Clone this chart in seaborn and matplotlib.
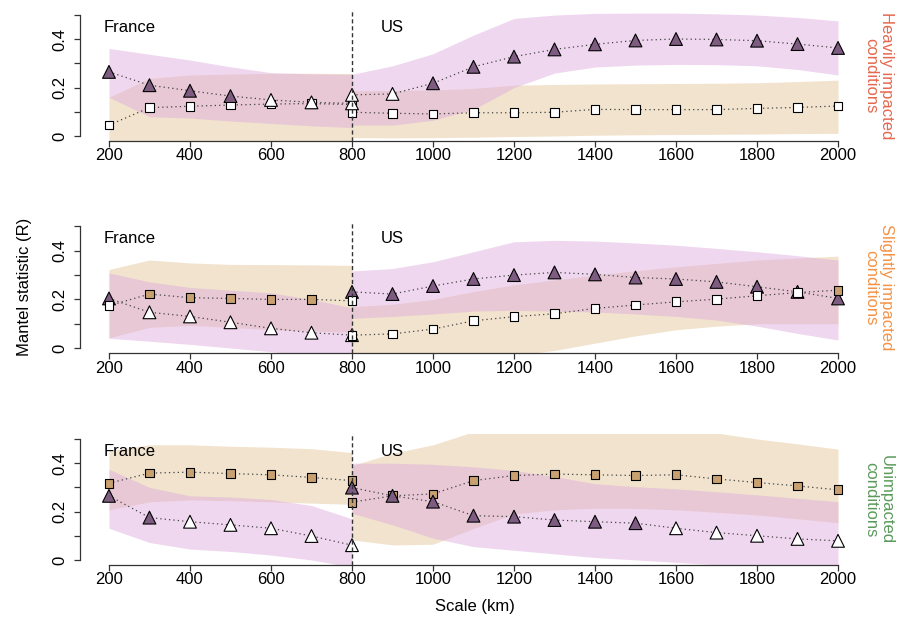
import pandas as pd
import matplotlib.pyplot as plt
import seaborn as sns

# distances (km) for the two transects
km_fr = [200, 300, 400, 500, 600, 700, 800]
km_us = [800, 900, 1000, 1100, 1200, 1300, 1400, 1500, 1600, 1700, 1800, 1900, 2000]

# Heavily impacted conditions
h_tri_fr = [0.265, 0.21, 0.187, 0.165, 0.149, 0.139, 0.135]
h_tri_fr_sig = [1, 1, 1, 1, 0, 0, 0]
h_tri_fr_lo = [0.16, 0.08, 0.074, 0.062, 0.052, 0.042, 0.035]
h_tri_fr_hi = [0.362, 0.338, 0.314, 0.286, 0.262, 0.257, 0.255]
h_tri_us = [0.17, 0.174, 0.218, 0.286, 0.328, 0.358, 0.379, 0.395, 0.401, 0.399, 0.394, 0.38, 0.364]
h_tri_us_sig = [0, 0, 1, 1, 1, 1, 1, 1, 1, 1, 1, 1, 1]
h_tri_us_lo = [0.045, 0.045, 0.065, 0.11, 0.2, 0.26, 0.285, 0.293, 0.296, 0.295, 0.29, 0.275, 0.252]
h_tri_us_hi = [0.255, 0.29, 0.34, 0.417, 0.486, 0.5, 0.507, 0.508, 0.508, 0.505, 0.5, 0.49, 0.476]
h_sq_fr = [0.045, 0.117, 0.123, 0.128, 0.132, 0.134, 0.13]
h_sq_fr_sig = [0, 0, 0, 0, 0, 0, 0]
h_sq_fr_lo = [-0.07, -0.06, -0.05, -0.05, -0.05, -0.05, -0.05]
h_sq_fr_hi = [0.16, 0.238, 0.252, 0.256, 0.259, 0.259, 0.258]
h_sq_us = [0.098, 0.094, 0.091, 0.096, 0.096, 0.098, 0.11, 0.109, 0.109, 0.109, 0.114, 0.118, 0.124]
h_sq_us_sig = [0] * 13
h_sq_us_lo = [-0.007, -0.008, -0.007, -0.005, -0.002, 0.0, 0.003, 0.005, 0.006, 0.007, 0.008, 0.01, 0.011]
h_sq_us_hi = [0.187, 0.188, 0.19, 0.197, 0.21, 0.213, 0.215, 0.216, 0.217, 0.218, 0.22, 0.225, 0.231]

# Slightly impacted conditions
s_tri_fr = [0.204, 0.147, 0.13, 0.106, 0.081, 0.063, 0.053]
s_tri_fr_sig = [1, 0, 0, 0, 0, 0, 0]
s_tri_fr_lo = [0.04, 0.028, 0.015, 0.0, -0.015, -0.03, -0.04]
s_tri_fr_hi = [0.309, 0.272, 0.249, 0.238, 0.227, 0.2, 0.165]
s_tri_us = [0.231, 0.222, 0.255, 0.284, 0.3, 0.311, 0.303, 0.29, 0.284, 0.272, 0.252, 0.231, 0.204]
s_tri_us_sig = [1] * 13
s_tri_us_lo = [0.122, 0.13, 0.14, 0.152, 0.155, 0.152, 0.148, 0.14, 0.13, 0.115, 0.09, 0.06, 0.033]
s_tri_us_hi = [0.317, 0.327, 0.355, 0.396, 0.437, 0.443, 0.44, 0.432, 0.423, 0.41, 0.396, 0.38, 0.362]
s_sq_fr = [0.174, 0.222, 0.207, 0.204, 0.2, 0.2, 0.194]
s_sq_fr_sig = [0, 1, 1, 1, 1, 1, 0]
s_sq_fr_lo = [0.042, 0.085, 0.093, 0.085, 0.075, 0.07, 0.065]
s_sq_fr_hi = [0.323, 0.362, 0.35, 0.344, 0.343, 0.342, 0.34]
s_sq_us = [0.053, 0.058, 0.078, 0.112, 0.129, 0.141, 0.163, 0.177, 0.19, 0.201, 0.215, 0.228, 0.238]
s_sq_us_sig = [0] * 12 + [1]
s_sq_us_lo = [-0.12, -0.1, -0.08, -0.055, -0.03, -0.01, 0.02, 0.05, 0.075, 0.09, 0.1, 0.1, 0.1]
s_sq_us_hi = [0.17, 0.18, 0.2, 0.232, 0.26, 0.28, 0.3, 0.318, 0.334, 0.348, 0.362, 0.37, 0.378]

# Unimpacted conditions
u_tri_fr = [0.265, 0.175, 0.158, 0.145, 0.131, 0.099, 0.061]
u_tri_fr_sig = [1, 1, 0, 0, 0, 0, 0]
u_tri_fr_lo = [0.131, 0.072, 0.045, 0.035, 0.02, 0.0, -0.03]
u_tri_fr_hi = [0.375, 0.3, 0.265, 0.26, 0.25, 0.225, 0.17]
u_tri_us = [0.299, 0.265, 0.241, 0.183, 0.179, 0.165, 0.158, 0.152, 0.131, 0.113, 0.1, 0.087, 0.079]
u_tri_us_sig = [1] * 8 + [0] * 5
u_tri_us_lo = [0.193, 0.145, 0.09, 0.055, 0.04, 0.025, 0.01, 0.0, -0.01, -0.02, -0.03, -0.03, -0.03]
u_tri_us_hi = [0.4, 0.4, 0.395, 0.385, 0.37, 0.345, 0.315, 0.303, 0.294, 0.282, 0.269, 0.255, 0.241]
u_sq_fr = [0.317, 0.359, 0.363, 0.357, 0.352, 0.341, 0.328]
u_sq_fr_sig = [1] * 7
u_sq_fr_lo = [0.207, 0.24, 0.248, 0.245, 0.24, 0.235, 0.23]
u_sq_fr_hi = [0.452, 0.476, 0.476, 0.47, 0.466, 0.46, 0.444]
u_sq_us = [0.239, 0.265, 0.273, 0.328, 0.349, 0.355, 0.352, 0.349, 0.352, 0.335, 0.32, 0.306, 0.29]
u_sq_us_sig = [1] * 13
u_sq_us_lo = [0.083, 0.062, 0.065, 0.13, 0.19, 0.207, 0.214, 0.213, 0.207, 0.197, 0.186, 0.17, 0.154]
u_sq_us_hi = [0.39, 0.441, 0.476, 0.53, 0.55, 0.55, 0.55, 0.55, 0.545, 0.525, 0.5, 0.48, 0.458]

x_ticks = [200, 400, 600, 800, 1000, 1200, 1400, 1600, 1800, 2000]
y_ticks = [0, 0.1, 0.2, 0.3, 0.4, 0.5]
y_ticklabels = ['0', '', '0.2', '', '0.4', '']

TRI_FILL = '#7E5B81'
SQ_FILL = '#C9A170'
TRI_BAND = '#DEA8DE'
SQ_BAND = '#E2C190'

sns.set_theme(style='ticks')
plt.rcParams['font.family'] = ['Liberation Sans', 'DejaVu Sans']
plt.rcParams['text.color'] = 'black'
plt.rcParams['xtick.color'] = 'black'
plt.rcParams['ytick.color'] = 'black'
plt.rcParams['axes.labelcolor'] = 'black'


def draw_band(ax, km, lo, hi, color):
    ax.fill_between(km, lo, hi, color=color, alpha=0.45, linewidth=0, zorder=1)


def draw_series(ax, km, vals, sig, marker, fill, size, z):
    sns.lineplot(x=km, y=vals, ax=ax, color='#444444', linewidth=0.9,
                 linestyle=(0, (1, 2.5)), zorder=2, errorbar=None, sort=False)
    df = pd.DataFrame({'km': km, 'R': vals,
                       'sig': ['sig' if s else 'ns' for s in sig]})
    sns.scatterplot(data=df, x='km', y='R', hue='sig',
                    palette={'sig': fill, 'ns': 'white'}, marker=marker, s=size,
                    edgecolor='black', linewidth=0.8, legend=False, ax=ax, zorder=z)


panels = [
    dict(label='Heavily impacted\nconditions', color='#E5674F', sq_first=True,
         tri=[(km_fr, h_tri_fr, h_tri_fr_sig, h_tri_fr_lo, h_tri_fr_hi),
              (km_us, h_tri_us, h_tri_us_sig, h_tri_us_lo, h_tri_us_hi)],
         sq=[(km_fr, h_sq_fr, h_sq_fr_sig, h_sq_fr_lo, h_sq_fr_hi),
             (km_us, h_sq_us, h_sq_us_sig, h_sq_us_lo, h_sq_us_hi)],
         rect=[0.0878, 0.7725, 0.8662, 0.211]),
    dict(label='Slightly impacted\nconditions', color='#F59245', sq_first=False,
         tri=[(km_fr, s_tri_fr, s_tri_fr_sig, s_tri_fr_lo, s_tri_fr_hi),
              (km_us, s_tri_us, s_tri_us_sig, s_tri_us_lo, s_tri_us_hi)],
         sq=[(km_fr, s_sq_fr, s_sq_fr_sig, s_sq_fr_lo, s_sq_fr_hi),
             (km_us, s_sq_us, s_sq_us_sig, s_sq_us_lo, s_sq_us_hi)],
         rect=[0.0878, 0.4299, 0.8662, 0.2121]),
    dict(label='Unimpacted\nconditions', color='#5B9A5B', sq_first=True,
         tri=[(km_fr, u_tri_fr, u_tri_fr_sig, u_tri_fr_lo, u_tri_fr_hi),
              (km_us, u_tri_us, u_tri_us_sig, u_tri_us_lo, u_tri_us_hi)],
         sq=[(km_fr, u_sq_fr, u_sq_fr_sig, u_sq_fr_lo, u_sq_fr_hi),
             (km_us, u_sq_us, u_sq_us_sig, u_sq_us_lo, u_sq_us_hi)],
         rect=[0.0878, 0.0876, 0.8662, 0.211]),
]

fig = plt.figure(figsize=(9.09, 6.19), dpi=100)

for p in panels:
    ax = fig.add_axes(p['rect'])

    # bandes de confiance: tan dessous, violet dessus
    for km, vals, sig, lo, hi in p['sq']:
        draw_band(ax, km, lo, hi, SQ_BAND)
    for km, vals, sig, lo, hi in p['tri']:
        draw_band(ax, km, lo, hi, TRI_BAND)

    z_sq, z_tri = (3, 4) if p['sq_first'] else (4, 3)
    for km, vals, sig, lo, hi in p['sq']:
        draw_series(ax, km, vals, sig, 's', SQ_FILL, 40, z_sq)
    for km, vals, sig, lo, hi in p['tri']:
        draw_series(ax, km, vals, sig, '^', TRI_FILL, 85, z_tri)

    ax.axvline(800, color='#333333', linewidth=1, linestyle=(0, (3, 2)), zorder=5)
    ax.text(250, 0.45, 'France', ha='center', va='center', fontsize=12, color='black')
    ax.text(900, 0.45, 'US', ha='center', va='center', fontsize=12, color='black')
    ax.text(1.0143, 0.5, p['label'], transform=ax.transAxes, rotation=270,
            ha='center', va='center', fontsize=12, color=p['color'], linespacing=1.1)

    ax.set_xlim(128, 2072)
    ax.set_ylim(-0.02, 0.52)
    ax.set_xticks(x_ticks)
    ax.set_xticklabels([str(t) for t in x_ticks], fontsize=12, color='black')
    ax.set_yticks(y_ticks)
    ax.set_yticklabels(y_ticklabels, fontsize=12, rotation=90, va='center', color='black')
    ax.set_xlabel('')
    ax.set_ylabel('')
    ax.tick_params(axis='x', length=4, width=0.9, color='#333333', pad=1.5)
    ax.tick_params(axis='y', length=4, width=0.9, color='#333333', pad=5)
    sns.despine(ax=ax)
    ax.spines['left'].set_bounds(0, 0.5)
    ax.spines['bottom'].set_bounds(200, 2000)
    for side in ['left', 'bottom']:
        ax.spines[side].set_color('#333333')
        ax.spines[side].set_linewidth(0.9)

fig.text(25 / 909, 1 - 287 / 619, 'Mantel statistic (R)', rotation=90,
         ha='center', va='center', fontsize=12, color='black')
fig.text(475 / 909, 1 - 606 / 619, 'Scale (km)', ha='center', va='center',
         fontsize=12, color='black')

fig.savefig('out.png', dpi=100)
